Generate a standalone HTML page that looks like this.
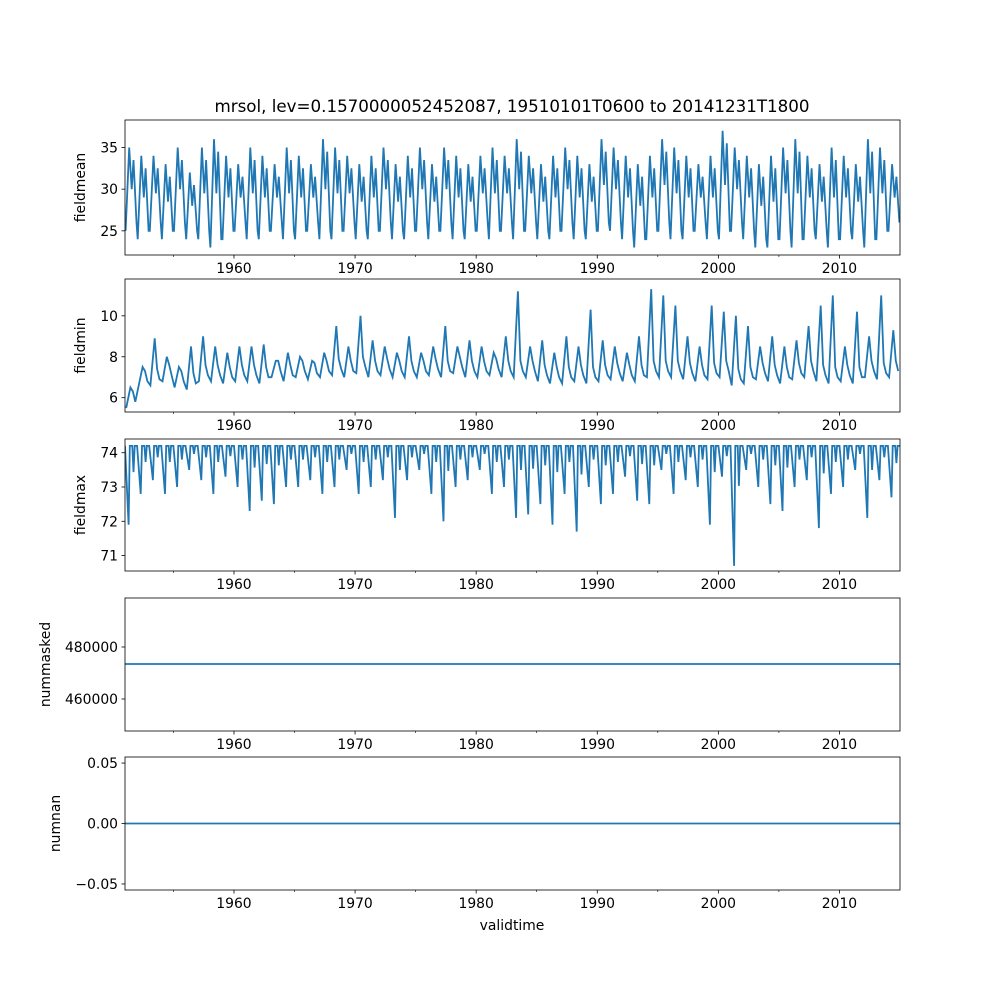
<!DOCTYPE html>
<html><head><meta charset="utf-8"><style>
body{margin:0;background:#fff}
svg text{font-family:"DejaVu Sans","Liberation Sans",sans-serif;font-size:13.9px;fill:#000}
</style></head><body>
<svg id="c" width="1000" height="1000" viewBox="0 0 1000 1000">
<rect width="1000" height="1000" fill="#fff"/>
<text x="512" y="112" text-anchor="middle" style="font-size:16.7px">mrsol, lev=0.1570000052452087, 19510101T0600 to 20141231T1800</text>
<text x="512" y="930" text-anchor="middle">validtime</text>
</svg>
<script>
const years=[];for(let y=1951;y<=2014;y++)years.push(y);
const meanHi=[35,34,34,33,35,32,35,36,34,33,35,34,33,35,34,33,36,35,34,33,34,35,33,34,35,33,35,34,33,34,35,34,36,34,33,34,35,34,33,36,35,34,33,34,36,35,34,33,34,37,35,34,33,34,35,36,34,33,35,34,33,36,35,33];
const meanLo=[25,24,25,24,25,24,24,23,24,25,24,24,25,24,24,25,24,24,25,24,24,25,24,24,25,24,25,24,24,25,24,25,24,25,24,24,25,24,24,25,25,24,23,24,25,24,24,25,24,24,25,24,23,23,24,23,24,24,23,24,24,23,24,25];
const minHi=[6.5,7.5,8.9,8,7.5,8.5,9,8.5,8.2,8.5,8.5,8.6,7.8,8.2,8,7.8,8.2,9.5,8.5,10,8.8,8.5,8.2,9,8.2,8.5,9.5,8.5,8.8,8.5,8.2,9,11.2,8.5,8.8,8.2,9,8.5,10.3,8.8,8.5,8.2,9,11.3,11,10.5,9,8.5,10.5,10.2,10,9.5,8.5,9,8.5,8.8,9.5,10.5,11,8.5,10.2,9,11,9.3];
const minLo=[5.5,6.5,6.6,6.8,6.5,6.4,6.8,6.8,6.7,6.8,6.8,6.7,7,6.8,7,6.9,7,7.1,7,7.2,7,7.1,7,7,7,7.1,7,7.2,7,7,7.1,7,7,7,6.8,6.7,6.7,6.8,6.7,6.8,6.9,6.8,6.8,7,7,7,6.9,6.8,6.9,7,6.6,6.7,6.9,6.8,6.7,6.9,7,6.8,6.7,6.8,6.7,7,6.9,7];
const maxTop=74.2;
const maxDip=[71.9,72.8,73.2,72.8,73,73.5,73.2,72.8,73.3,73,72.3,72.6,72.5,73,73,73.2,72.8,73,73.5,72.8,73,73.2,72.1,73.2,73.5,72.8,72,73,73.2,73.5,72.8,73,72.1,72.2,72.5,71.9,72.8,71.7,73,72.5,72.8,73.3,72.6,72.5,73.5,72.8,73.2,73,71.9,73.3,70.7,73.5,73,72.5,72.3,73,73.2,71.8,72.8,73,73.5,72.1,73.2,72.7];
const maskedVal=473460;
const nanVal=0;
const xTicks=[1960,1970,1980,1990,2000,2010];
const xMinor=[1955,1965,1975,1985,1995,2005];
const NS="http://www.w3.org/2000/svg";
const svg=document.getElementById('c');
const X0=125,X1=900,T0=1951,T1=2015;
const xs=t=>X0+(t-T0)/(T1-T0)*(X1-X0);
function el(tag,attrs,parent){const e=document.createElementNS(NS,tag);for(const k in attrs)e.setAttribute(k,attrs[k]);(parent||svg).appendChild(e);return e;}
const panels=[
 {name:'fieldmean',top:120,bot:255,ymin:22.1,ymax:38.3,ticks:[25,30,35],lab:['25','30','35'],labx:79},
 {name:'fieldmin',top:279,bot:412,ymin:5.3,ymax:11.8,ticks:[6,8,10],lab:['6','8','10'],labx:79},
 {name:'fieldmax',top:439,bot:571,ymin:70.55,ymax:74.4,ticks:[71,72,73,74],lab:['71','72','73','74'],labx:79},
 {name:'nummasked',top:598,bot:731,ymin:447692,ymax:498846,ticks:[460000,480000],lab:['460000','480000'],labx:44},
 {name:'numnan',top:757,bot:890,ymin:-0.055,ymax:0.055,ticks:[-0.05,0,0.05],lab:['\u22120.05','0.00','0.05'],labx:54}
];
function series(i){
 const pts=[];
 if(i===0){years.forEach((y,k)=>{pts.push([y+0.05,meanLo[k]]);pts.push([y+0.35,meanHi[k]]);pts.push([y+0.55,(meanHi[k]+meanLo[k])/2]);pts.push([y+0.7,meanHi[k]-1.5]);pts.push([y+0.95,meanLo[k]+1]);});}
 if(i===1){years.forEach((y,k)=>{pts.push([y+0.1,minLo[k]]);pts.push([y+0.45,minHi[k]]);pts.push([y+0.65,minLo[k]+0.8]);pts.push([y+0.85,minLo[k]+0.3]);});}
 if(i===2){years.forEach((y,k)=>{pts.push([y,maxTop]);pts.push([y+0.3,maxDip[k]]);pts.push([y+0.4,maxTop]);pts.push([y+0.6,maxTop]);pts.push([y+0.7,(maxDip[k]+maxTop*2)/3]);pts.push([y+0.8,maxTop]);});pts.push([2015,maxTop]);}
 if(i===3){pts.push([T0,maskedVal],[T1,maskedVal]);}
 if(i===4){pts.push([T0,nanVal],[T1,nanVal]);}
 return pts;
}
panels.forEach((p,i)=>{
 const g=el('g',{});
 
 
 const ys=v=>p.bot-(v-p.ymin)/(p.ymax-p.ymin)*(p.bot-p.top);
 const cp=el('clipPath',{id:'cp'+i},g);el('rect',{x:X0,y:p.top,width:X1-X0,height:p.bot-p.top},cp);
 const pts=series(i);
 const line=el('path',{d:pts.map((q,k)=>(k?'L':'M')+xs(q[0]).toFixed(1)+','+ys(q[1]).toFixed(1)).join(''),fill:'none',stroke:'#1f77b4','stroke-width':1.8,'clip-path':'url(#cp'+i+')'},g);
 
 
 const fr=el('rect',{x:X0,y:p.top,width:X1-X0,height:p.bot-p.top,fill:'none',stroke:'#000','stroke-width':0.8},g);
 
 
 p.ticks.forEach((v,k)=>{const y=ys(v);el('line',{x1:X0-3.5,x2:X0,y1:y,y2:y,stroke:'#000','stroke-width':0.8},g);
  const t=el('text',{x:X0-7,y:y+5,'text-anchor':'end'},g);t.textContent=p.lab[k];
  
  });
 xTicks.forEach(v=>{const x=xs(v);el('line',{x1:x,x2:x,y1:p.bot,y2:p.bot+3.5,stroke:'#000','stroke-width':0.8},g);
  const t=el('text',{x:x,y:p.bot+18,'text-anchor':'middle'},g);t.textContent=v;
  
  });
 xMinor.forEach(v=>{const x=xs(v);el('line',{x1:x,x2:x,y1:p.bot,y2:p.bot+2,stroke:'#000','stroke-width':0.6},g);});
 const yl=el('text',{x:0,y:0,'text-anchor':'middle',transform:`translate(${p.labx+6},${(p.top+p.bot)/2}) rotate(-90)`},g);
 yl.textContent=p.name;
 
 
});
</script>
</body></html>
